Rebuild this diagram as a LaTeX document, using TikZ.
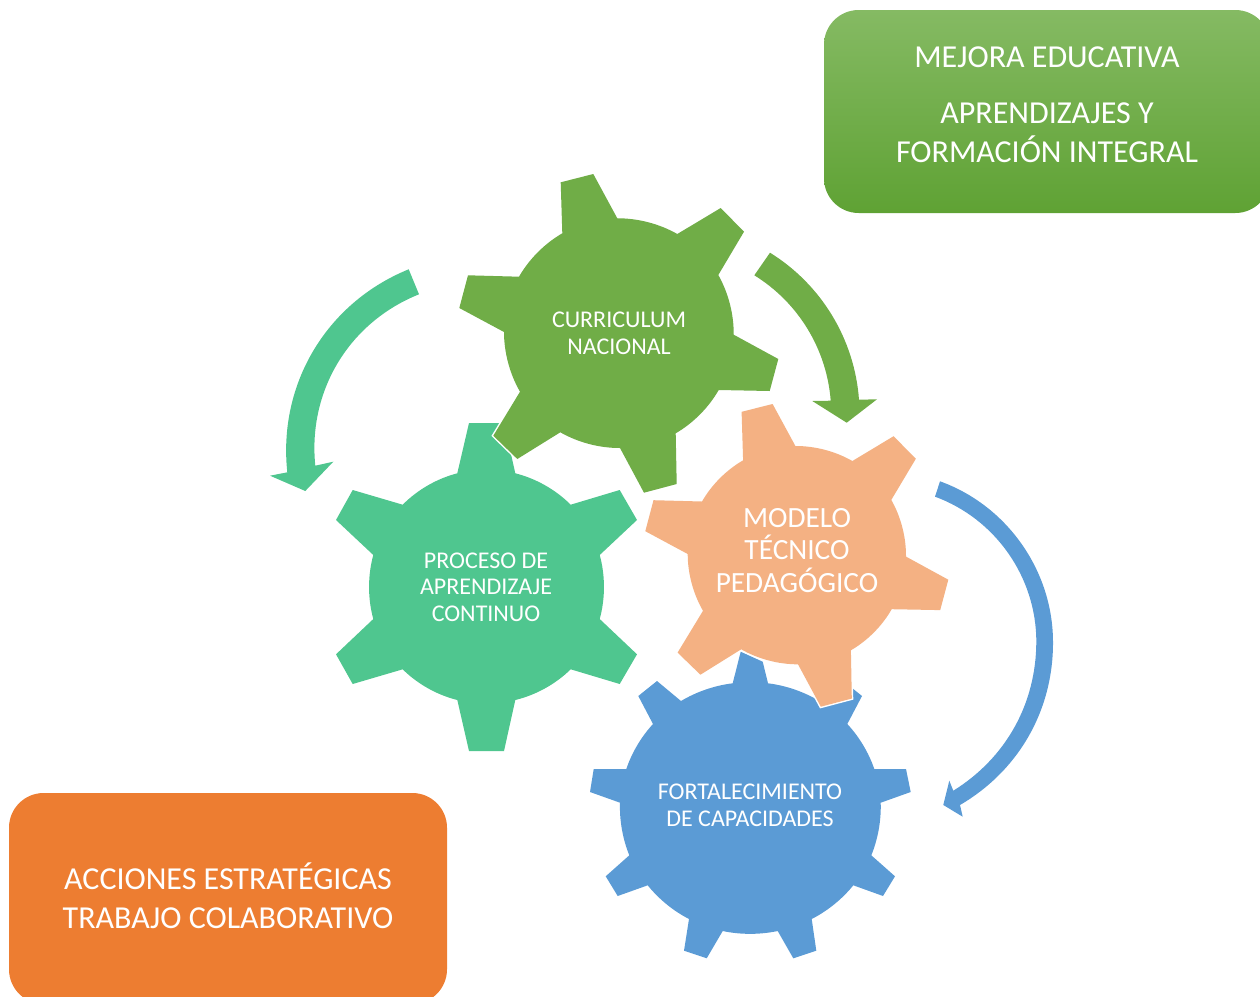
\documentclass[tikz,border=0pt]{standalone}
\usepackage{fontspec}
\usepackage{xcolor}
\setmainfont{Carlito}
\definecolor{verde}{HTML}{70AD47}
\definecolor{menta}{HTML}{4FC68F}
\definecolor{durazno}{HTML}{F4B183}
\definecolor{azul}{HTML}{5B9BD5}
\definecolor{naranja}{HTML}{ED7D31}
\definecolor{cajatop}{HTML}{85BA63}
\definecolor{cajamid}{HTML}{6EB03F}
\definecolor{cajabot}{HTML}{5FA234}

\begin{document}
\begin{tikzpicture}[x=0.75pt,y=-0.75pt,
        gearfront/.style={preaction={draw=white,line width=2.2pt}},
        gearlabel/.style={text=white,align=center,inner sep=0pt},
        cajatext/.style={text=white,align=center,inner sep=0pt,font=\fontsize{24}{29.4}\selectfont}]
        \clip (0,0) rectangle (1260,996);

        % engranajes
        \fill[menta,looseness=0.85] (457.3,473.3) -- (469,423) -- (504,423) -- (515.3,473.3)
            to[bend left=15.5] (570.7,504.7) -- (619.7,490) -- (637,520) -- (599.7,555)
            to[bend left=15.5] (599.7,619) -- (637,654.3) -- (619.7,684) -- (570.7,669.3)
            to[bend left=15.5] (515.3,700) -- (504,751) -- (469,751) -- (457.3,700)
            to[bend left=15.5] (402.7,669.3) -- (352.7,684) -- (336,654.3) -- (373.3,619)
            to[bend left=15.5] (373.3,555) -- (336,520) -- (352.7,490) -- (402.7,504.7)
            to[bend left=15.5] cycle;

        \path[fill=verde,gearfront,looseness=0.85] (562.3,233.3) -- (560.7,182.3) -- (593.3,174) -- (617.3,218.3)
            to[bend left=15] (677.3,234) -- (720.7,208) -- (744,231.7) -- (718.3,275)
            to[bend left=15] (733.7,334.7) -- (778.3,359) -- (769.7,391) -- (718.7,390)
            to[bend left=15] (675.7,433.3) -- (676.7,484) -- (644,492.7) -- (620,448)
            to[bend left=15] (560.3,432.3) -- (517.3,459) -- (493.3,435.7) -- (520,391.7)
            to[bend left=15] (504,332) -- (459.3,308) -- (468,275.3) -- (519,276.7)
            to[bend left=15] cycle;

        \fill[azul,looseness=0.85] (732.7,683.3) -- (740.7,651.7) -- (762.7,661.7) -- (768,683.3)
            to[bend left=12] (819.3,701) -- (843.3,681) -- (862,696) -- (847.3,724)
            to[bend left=12] (874.3,769) -- (906,769) -- (910.7,792) -- (880.7,802.7)
            to[bend left=12] (871.3,855.3) -- (895,876.3) -- (883,896) -- (853.3,885.3)
            to[bend left=12] (811.7,919) -- (816.3,950.7) -- (793.3,958.3) -- (777.7,931)
            to[bend left=12] (722.7,931) -- (706.7,958.3) -- (684,950.7) -- (689,919)
            to[bend left=12] (647.7,885.3) -- (617.7,896) -- (605.7,876.3) -- (629.3,855.3)
            to[bend left=12] (620,802.7) -- (590,792) -- (593.7,769) -- (626.3,769)
            to[bend left=12] (653,724) -- (638.3,696) -- (657,681) -- (681,701)
            to[bend left=12] cycle;

        \path[fill=durazno,gearfront,looseness=0.85] (743.1,460.3) -- (741.6,411.8) -- (772.6,404) -- (795.4,446)
            to[bend left=15] (852.4,461) -- (893.6,436.2) -- (915.8,458.8) -- (891.3,499.9)
            to[bend left=15] (906,556.6) -- (948.3,579.7) -- (940.2,610.1) -- (891.7,609.2)
            to[bend left=15] (850.9,650.3) -- (851.8,698.5) -- (820.8,706.7) -- (798,664.3)
            to[bend left=15] (741.2,649.3) -- (700.4,674.7) -- (677.6,652.6) -- (703,610.8)
            to[bend left=15] (687.7,554) -- (645.3,531.2) -- (653.5,500.2) -- (702,501.5)
            to[bend left=15] cycle;

        % flechas
        \fill[verde,looseness=0.9] (770,252.7) to[bend left=27] (859,399.7) -- (877,399.3) -- (846.7,422.7)
            -- (812.3,401) -- (830.7,400.7) to[bend right=27] (754.3,275.3) -- cycle;
        \fill[menta,looseness=0.96] (408.7,269.3) to[bend right=37] (287.3,472.3) -- (270,475.7) -- (305.3,491)
            -- (333.3,461.7) -- (315.3,465.7) to[bend left=37] (419,294.3) -- cycle;
        \fill[azul,looseness=0.93] (940,481.3) to[bend left=35] (1053,641.7) to[bend left=30] (960,805)
            -- (962.7,816.7) -- (943.3,805) -- (949.3,780.7) -- (953.3,790.7)
            to[bend right=29] (1036.3,641.7) to[bend right=35] (935,496.7) -- cycle;

        % cajas
        \shade[rounded corners=26pt,top color=cajatop,middle color=cajamid,bottom color=cajabot] (824,10) rectangle (1270,213);
        \fill[naranja,rounded corners=26pt] (9,793) rectangle (447,1004);

        \node[gearlabel,font=\fontsize{18}{20}\selectfont] (curriculum) at (619,333.5) {CURRICULUM\\NACIONAL};
        \node[gearlabel,font=\fontsize{18}{20}\selectfont] (proceso) at (486,587) {PROCESO DE\\APRENDIZAJE\\CONTINUO};
        \node[gearlabel,font=\fontsize{22}{24.4}\selectfont] (modelo) at (797,550.5) {MODELO\\TÉCNICO\\PEDAGÓGICO};
        \node[gearlabel,font=\fontsize{18}{20}\selectfont] (fortalecimiento) at (750,805) {FORTALECIMIENTO\\DE CAPACIDADES};

        \node[cajatext] (mejora) at (1047,104.5) {MEJORA EDUCATIVA\\[12.5pt]APRENDIZAJES Y\\FORMACIÓN INTEGRAL};
        \node[cajatext] (acciones) at (228,896) {ACCIONES ESTRATÉGICAS\\TRABAJO COLABORATIVO};
\end{tikzpicture}
\end{document}
